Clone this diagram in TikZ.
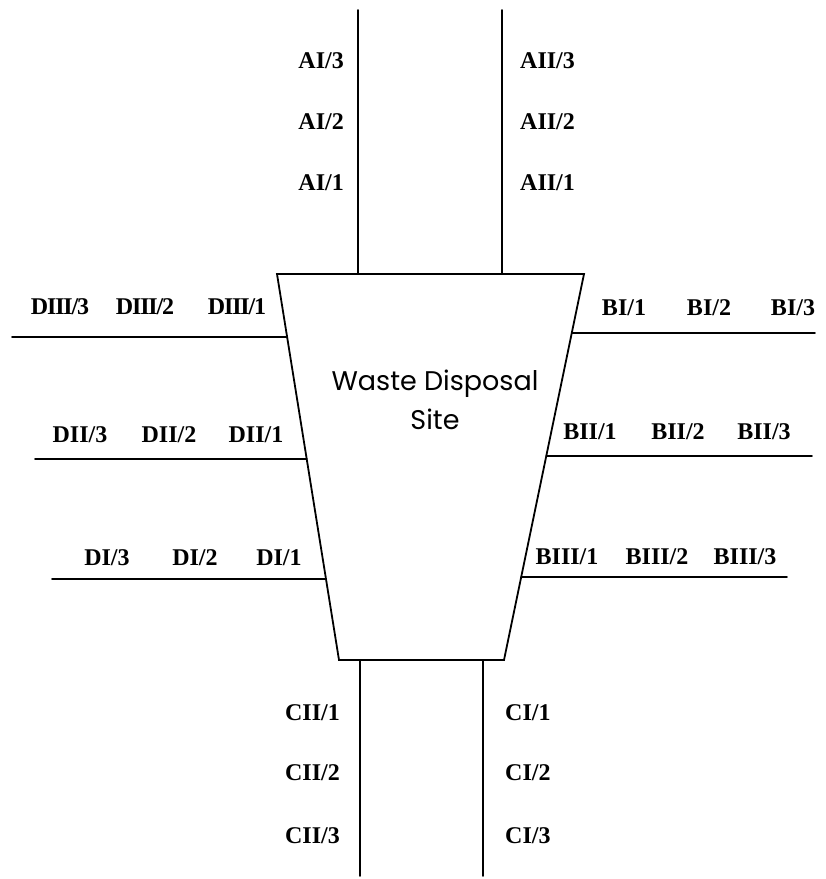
\documentclass[tikz,border=0pt]{standalone}
\usepackage{fontspec}
\usetikzlibrary{calc}
\setmainfont{Liberation Serif}
\newfontfamily\geo{Poppins}
\begin{document}
\begin{tikzpicture}[x=1pt,y=-1pt,
  road/.style={line width=1.8pt,line cap=round},
  lbl/.style={font=\fontsize{24}{28}\selectfont\bfseries,inner sep=0pt},
  tight/.style={font=\fontsize{24}{28}\selectfont\bfseries\addfontfeatures{LetterSpace=-5}},
  site/.style={font=\geo\fontsize{27}{39}\selectfont,align=center,inner sep=0pt}]
\useasboundingbox (0,0) rectangle (826,879);
% trapezoid corners
\coordinate (tl) at (277,274);
\coordinate (tr) at (584,274);
\coordinate (br) at (504,660);
\coordinate (bl) at (339,660);
\draw[road,line join=miter] (tl) -- (tr) -- (br) -- (bl) -- cycle;
% top roads
\coordinate (a1t) at (358,10);  \coordinate (a1b) at (358,274);
\coordinate (a2t) at (502,10);  \coordinate (a2b) at (502,274);
\draw[road] (a1t) -- (a1b);
\draw[road] (a2t) -- (a2b);
% bottom roads
\coordinate (c2t) at (360,660); \coordinate (c2b) at (360,876);
\coordinate (c1t) at (483,660); \coordinate (c1b) at (483,876);
\draw[road] (c2t) -- (c2b);
\draw[road] (c1t) -- (c1b);
% left roads
\coordinate (d3l) at (12,337);  \coordinate (d3r) at ($(tl)!{63/386}!(bl)$);
\coordinate (d2l) at (35,459);  \coordinate (d2r) at ($(tl)!{185/386}!(bl)$);
\coordinate (d1l) at (52,579);  \coordinate (d1r) at ($(tl)!{305/386}!(bl)$);
\draw[road] (d3l) -- (d3r);
\draw[road] (d2l) -- (d2r);
\draw[road] (d1l) -- (d1r);
% right roads
\coordinate (b1l) at ($(tr)!{59/386}!(br)$);  \coordinate (b1r) at (815,333);
\coordinate (b2l) at ($(tr)!{182/386}!(br)$); \coordinate (b2r) at (812,456);
\coordinate (b3l) at ($(tr)!{303/386}!(br)$); \coordinate (b3r) at (787,577);
\draw[road] (b1l) -- (b1r);
\draw[road] (b2l) -- (b2r);
\draw[road] (b3l) -- (b3r);
% site label
\node[site] (site) at (435,400) {Waste Disposal\\Site};
% A labels
\node[lbl,anchor=east] (ai3) at (344,61) {AI/3};
\node[lbl,anchor=east] (ai2) at (344,122) {AI/2};
\node[lbl,anchor=east] (ai1) at (344,183) {AI/1};
\node[lbl,anchor=west] (aii3) at (520,61) {AII/3};
\node[lbl,anchor=west] (aii2) at (520,122) {AII/2};
\node[lbl,anchor=west] (aii1) at (520,183) {AII/1};
% C labels
\node[lbl,anchor=east] (cii1) at (340,713) {CII/1};
\node[lbl,anchor=east] (cii2) at (340,773) {CII/2};
\node[lbl,anchor=east] (cii3) at (340,836) {CII/3};
\node[lbl,anchor=west] (ci1) at (505,713) {CI/1};
\node[lbl,anchor=west] (ci2) at (505,773) {CI/2};
\node[lbl,anchor=west] (ci3) at (505,836) {CI/3};
% D labels
\node[lbl,tight] (diii3) at (60,307) {DIII/3};
\node[lbl,tight] (diii2) at (145,307) {DIII/2};
\node[lbl,tight] (diii1) at (237,307) {DIII/1};
\node[lbl] (dii3) at (80,435) {DII/3};
\node[lbl] (dii2) at (169,435) {DII/2};
\node[lbl] (dii1) at (256,435) {DII/1};
\node[lbl] (di3) at (107,558) {DI/3};
\node[lbl] (di2) at (195,558) {DI/2};
\node[lbl] (di1) at (279,558) {DI/1};
% B labels
\node[lbl] (bi1) at (624,308) {BI/1};
\node[lbl] (bi2) at (709,308) {BI/2};
\node[lbl] (bi3) at (793,308) {BI/3};
\node[lbl] (bii1) at (590,432) {BII/1};
\node[lbl] (bii2) at (678,432) {BII/2};
\node[lbl] (bii3) at (764,432) {BII/3};
\node[lbl] (biii1) at (567,557) {BIII/1};
\node[lbl] (biii2) at (657,557) {BIII/2};
\node[lbl] (biii3) at (745,557) {BIII/3};
\end{tikzpicture}
\end{document}
